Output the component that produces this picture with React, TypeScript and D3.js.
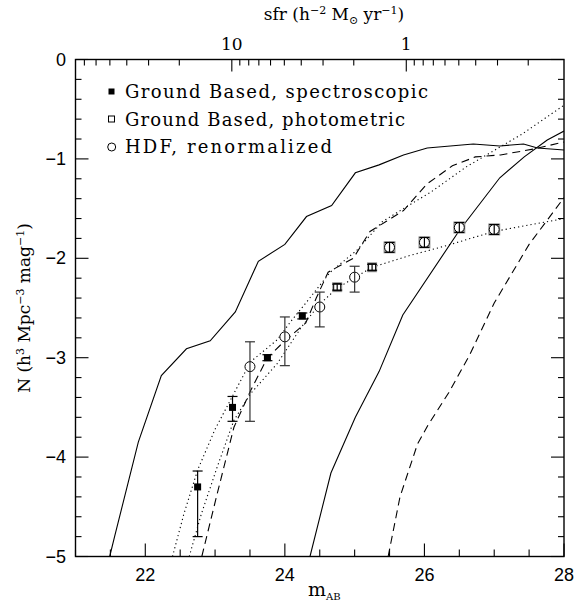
import React from 'react';
import * as d3 from 'd3';

const W = 575, H = 606;
const X0 = 75.5, X1 = 564, Y0 = 59.5, Y1 = 556.5;

const xMajorTicks = [22, 24, 26, 28];
const yMajorTicks = [0, -1, -2, -3, -4, -5];
const sfrLabels = [10, 1];
const mAtSfr10 = 23.24;

// Ground based spectroscopic
const specM = [22.75, 23.25, 23.75, 24.25];
const specN = [-4.3, -3.5, -3.0, -2.58];
const specTop = [-4.14, -3.39, -2.97, -2.55];
const specBot = [-4.8, -3.64, -3.03, -2.61];
// Ground based photometric
const photM = [24.75, 25.25];
const photN = [-2.29, -2.09];
const photTop = [-2.26, -2.06];
const photBot = [-2.32, -2.12];
// HDF renormalized
const hdfM = [23.5, 24.0, 24.5, 25.0, 25.5, 26.0, 26.5, 27.0];
const hdfN = [-3.09, -2.79, -2.49, -2.19, -1.89, -1.84, -1.69, -1.71];
const hdfTop = [-2.84, -2.59, -2.34, -2.08, -1.84, -1.79, -1.64, -1.66];
const hdfBot = [-3.64, -3.08, -2.69, -2.34, -1.94, -1.89, -1.74, -1.76];

// model curves
const solidA: [number, number][] = [[21.49, -5], [21.56, -4.8], [21.9, -3.85], [22.23, -3.18], [22.59, -2.91], [22.93, -2.83], [23.29, -2.54], [23.62, -2.03], [24.0, -1.86], [24.31, -1.58], [24.67, -1.47], [25.01, -1.14], [25.35, -1.06], [25.7, -0.96], [26.04, -0.89], [26.7, -0.85], [27.08, -0.87], [27.42, -0.85], [27.62, -0.89], [28, -0.91]];
const solidB: [number, number][] = [[24.36, -5], [24.66, -4.16], [25.01, -3.6], [25.35, -3.14], [25.69, -2.57], [26.5, -1.72], [27.08, -1.19], [27.43, -0.98], [27.76, -0.81], [28, -0.72]];
const dashedC: [number, number][] = [[22.81, -5], [23.03, -4.37], [23.27, -3.7], [23.51, -3.33], [23.75, -3.0], [24.0, -2.83], [24.3, -2.65], [24.45, -2.4], [24.62, -2.14], [24.98, -2.0], [25.22, -1.73], [25.45, -1.63], [25.7, -1.52], [26.04, -1.25], [26.4, -1.07], [26.73, -0.98], [27.09, -0.96], [27.57, -0.9], [28, -0.83]];
const dashedD: [number, number][] = [[25.48, -5], [25.65, -4.4], [25.9, -3.87], [26.05, -3.68], [26.35, -3.35], [26.65, -2.97], [27.0, -2.45], [27.5, -1.86], [28, -1.39]];
const dottedE: [number, number][] = [[22.39, -5], [22.55, -4.58], [22.75, -4.13], [23.0, -3.72], [23.27, -3.36], [23.51, -3.04], [23.89, -2.82], [24.08, -2.64], [24.3, -2.45], [24.65, -2.14], [25.03, -1.92], [25.4, -1.63], [25.7, -1.5], [26.1, -1.33], [26.6, -1.08], [27.4, -0.75], [28, -0.46]];
const dottedF: [number, number][] = [[22.63, -5], [22.8, -4.58], [23.03, -4.1], [23.27, -3.63], [23.51, -3.36], [23.89, -3.06], [24.25, -2.68], [24.5, -2.46], [24.75, -2.3], [25.25, -2.09], [25.8, -1.97], [26.33, -1.87], [26.66, -1.8], [27.0, -1.73], [28, -1.6]];

const legendItems = ['Ground Based, spectroscopic', 'Ground Based, photometric', 'HDF, renormalized'];

export default function App() {
  const x = d3.scaleLinear().domain([21, 28]).range([X0, X1]);
  const y = d3.scaleLinear().domain([0, -5]).range([Y0, Y1]);
  const sfrOf = (m: number) => 10 * Math.pow(10, -0.4 * (m - mAtSfr10));
  const xs = d3.scaleLog().domain([sfrOf(21), sfrOf(28)]).range([X0, X1]);
  const line = d3.line<[number, number]>().x(d => x(d[0])).y(d => y(d[1]));

  const xMinor = d3.range(21, 28.01, 0.5);
  const yMinor = d3.range(0, -5.01, -0.2);
  const sfrTicks = xs.ticks().filter(t => xs(t) >= X0 && xs(t) <= X1);

  const serif = 'DejaVu Serif, serif';
  const sans = 'Liberation Sans, Arial, sans-serif';
  const errColor = '#333';

  const errBar = (m: number, top: number, bot: number, key: string, color = '#000') => (
    <g key={key} stroke={color} strokeWidth={1.2}>
      <line x1={x(m)} x2={x(m)} y1={y(top)} y2={y(bot)} />
      <line x1={x(m) - 5} x2={x(m) + 5} y1={y(top)} y2={y(top)} />
      <line x1={x(m) - 5} x2={x(m) + 5} y1={y(bot)} y2={y(bot)} />
    </g>
  );

  return (
    <svg width={W} height={H} style={{ position: 'absolute', left: 0, top: 0, background: '#fff' }}>
      <defs>
        <clipPath id="plot"><rect x={X0} y={Y0} width={X1 - X0} height={Y1 - Y0} /></clipPath>
      </defs>
      <rect x={0} y={0} width={W} height={H} fill="#fff" />

      {/* curves */}
      <g clipPath="url(#plot)" fill="none" stroke="#000" strokeWidth={1.1}>
        <path d={line(solidA) || ''} />
        <path d={line(solidB) || ''} />
        <path d={line(dashedC) || ''} strokeDasharray="8,5" />
        <path d={line(dashedD) || ''} strokeDasharray="8,5" />
        <path d={line(dottedE) || ''} strokeDasharray="1.2,3" />
        <path d={line(dottedF) || ''} strokeDasharray="1.2,3" />
      </g>

      {/* spectroscopic */}
      {specM.map((m, i) => (
        <g key={'s' + i}>
          {errBar(m, specTop[i], specBot[i], 'se' + i)}
          <rect x={x(m) - 3.5} y={y(specN[i]) - 3.5} width={7} height={7} fill="#000" />
        </g>
      ))}
      {/* photometric */}
      {photM.map((m, i) => (
        <g key={'p' + i}>
          <rect x={x(m) - 5} y={y(photN[i]) - 5} width={10} height={10} fill="#999" />
          <rect x={x(m) - 3.5} y={y(photN[i]) - 3.5} width={7} height={7} fill="#fff" stroke="#000" strokeWidth={1} />
          {errBar(m, photTop[i], photBot[i], 'pe' + i)}
        </g>
      ))}
      {/* HDF */}
      {hdfM.map((m, i) => {
        const small = hdfTop[i] - hdfBot[i] < 0.15;
        return (
          <g key={'h' + i}>
            {small && <rect x={x(m) - 6} y={y(hdfN[i]) - 6} width={12} height={12} fill="#999" />}
            <circle cx={x(m)} cy={y(hdfN[i])} r={5} fill="#fff" stroke="#000" strokeWidth={1} />
            {errBar(m, hdfTop[i], hdfBot[i], 'he' + i, small ? '#000' : errColor)}
          </g>
        );
      })}

      {/* frame */}
      <rect x={X0} y={Y0} width={X1 - X0} height={Y1 - Y0} fill="none" stroke="#000" strokeWidth={1.4} />

      {/* ticks */}
      <g stroke="#000" strokeWidth={1.1}>
        {xMinor.map(t => {
          const major = xMajorTicks.includes(t);
          return <line key={'xb' + t} x1={x(t)} x2={x(t)} y1={Y1} y2={Y1 - (major ? 13 : 7)} />;
        })}
        {sfrTicks.map(t => {
          const major = sfrLabels.includes(t);
          return <line key={'xt' + t} x1={xs(t)} x2={xs(t)} y1={Y0} y2={Y0 + (major ? 12 : 6)} />;
        })}
        {yMinor.map(t => {
          const major = Math.abs(t - Math.round(t)) < 1e-6;
          const len = major ? 13 : 6;
          return (
            <g key={'y' + t}>
              <line x1={X0} x2={X0 + len} y1={y(t)} y2={y(t)} />
              <line x1={X1} x2={X1 - len} y1={y(t)} y2={y(t)} />
            </g>
          );
        })}
      </g>

      {/* tick labels */}
      <g fontFamily={sans} fontSize={18} fill="#000">
        {xMajorTicks.map(t => (
          <text key={'xl' + t} x={x(t)} y={581} textAnchor="middle">{t}</text>
        ))}
        {yMajorTicks.map(t => (
          <text key={'yl' + t} x={66} y={y(t) + 6} textAnchor="end">{t === 0 ? '0' : '\u2212' + Math.abs(t)}</text>
        ))}
      </g>
      <g fontFamily={serif} fontSize={17} fill="#000">
        {sfrLabels.map(t => (
          <text key={'sl' + t} x={xs(t)} y={50} textAnchor="middle">{t}</text>
        ))}
      </g>

      {/* axis titles */}
      <text x={334} y={20} textAnchor="middle" fontFamily={serif} fontSize={17}>
        sfr (h<tspan dy={-6} fontSize={11}>−2</tspan><tspan dy={6}> M</tspan><tspan dy={4} fontSize={11}>⊙</tspan><tspan dy={-4}> yr</tspan><tspan dy={-6} fontSize={11}>−1</tspan><tspan dy={6}>)</tspan>
      </text>
      <text x={308} y={596} fontFamily={serif} fontSize={19}>
        m<tspan dy={4} fontSize={10}>AB</tspan>
      </text>
      <text transform={`translate(30,${(Y0 + Y1) / 2}) rotate(-90)`} textAnchor="middle" fontFamily={serif} fontSize={17}>
        N (h<tspan dy={-6} fontSize={11}>3</tspan><tspan dy={6}> Mpc</tspan><tspan dy={-6} fontSize={11}>−3</tspan><tspan dy={6}> mag</tspan><tspan dy={-6} fontSize={11}>−1</tspan><tspan dy={6}>)</tspan>
      </text>

      {/* legend */}
      <rect x={108.5} y={88.5} width={6} height={6} fill="#000" />
      <rect x={108.5} y={116} width={6} height={6} fill="#fff" stroke="#000" strokeWidth={1} />
      <circle cx={111.7} cy={147} r={4} fill="#fff" stroke="#000" strokeWidth={1} />
      {legendItems.map((s, i) => (
        <text key={s} x={125} y={98 + i * 27.7} fontFamily={serif} fontSize={18}
          textLength={i === 0 ? 303 : i === 1 ? 280 : 207} lengthAdjust="spacing">{s}</text>
      ))}
    </svg>
  );
}
